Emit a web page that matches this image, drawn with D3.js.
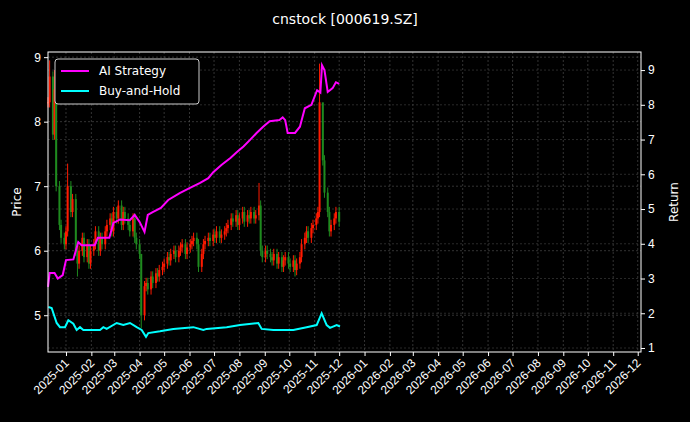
<!DOCTYPE html><html><head><meta charset="utf-8"><script src="https://cdn.jsdelivr.net/npm/d3@7"></script>
<style>body{margin:0;background:#000}svg{font-family:"DejaVu Sans",sans-serif}</style></head><body><svg id="c" width="690" height="422"></svg>
<script>
const closes=[8.3,8.7,7.8,8.5,7.0,6.4,6.2,6.1,6.3,7.0,6.6,6.8,6.0,5.8,6.0,6.2,5.9,6.1,5.8,6.0,
6.1,6.3,6.0,6.2,6.1,6.3,6.4,6.5,6.3,6.6,6.5,6.7,6.4,6.6,6.5,6.4,6.3,6.5,6.2,6.1,5.95,5.0,
5.45,5.5,5.4,5.6,5.5,5.65,5.6,5.7,5.75,5.8,5.9,5.85,5.95,6.0,5.9,6.0,6.05,6.1,5.95,6.05,6.1,
6.15,6.2,6.1,5.75,5.95,6.1,6.15,6.2,6.15,6.25,6.2,6.3,6.2,6.25,6.3,6.35,
6.4,6.5,6.45,6.55,6.4,6.5,6.6,6.45,6.55,6.5,6.6,6.5,6.55,6.7,6.0,5.9,6.0,5.95,5.9,
5.85,5.95,5.8,5.9,5.75,5.85,5.9,5.8,5.75,5.85,5.7,5.8,5.9,6.1,6.2,6.3,6.2,6.35,6.4,6.5,6.6,
8.3,7.4,6.9,6.6,6.3,6.4,6.5,6.6,6.45];
const spikeHigh={1:8.95,3:8.8,9:7.35,41:5.95,92:7.05,119:8.9,120:8.0};
const spikeLow={41:4.8,108:5.6,13:5.6};
const aiDates=["2024-12-10","2024-12-12","2024-12-18","2024-12-22","2024-12-28","2025-01-01","2025-01-10","2025-01-16","2025-01-20","2025-02-05","2025-02-09","2025-02-23","2025-02-28","2025-03-08","2025-03-20","2025-03-26","2025-04-01","2025-04-07","2025-04-11","2025-04-17","2025-04-27","2025-05-06","2025-05-20","2025-06-01","2025-06-14","2025-06-24","2025-06-30","2025-07-10","2025-07-21","2025-07-29","2025-08-06","2025-08-14","2025-08-22","2025-08-30","2025-09-07","2025-09-19","2025-09-23","2025-09-26","2025-09-29","2025-10-08","2025-10-14","2025-10-20","2025-10-28","2025-11-04","2025-11-08","2025-11-10","2025-11-13","2025-11-17","2025-11-23","2025-11-27","2025-12-01"];
const aiValues=[2.76,3.16,3.16,3.0,3.1,3.53,3.55,4.05,3.96,3.96,4.17,4.17,4.6,4.7,4.68,4.83,4.63,4.34,4.83,4.91,5.03,5.26,5.46,5.6,5.75,5.89,6.06,6.27,6.47,6.64,6.8,6.99,7.19,7.37,7.53,7.56,7.64,7.56,7.19,7.19,7.37,7.9,8.0,8.42,8.35,9.14,9.0,8.37,8.48,8.65,8.6];
const bhX=[25,35,50,60,75,85,100,110,120,130,180,190,200,230,250,270,290,305,318,325,360,400,460,490,500,560,600,655,665,700,740,760,800,830,845,860,870,890,900];
const bhValues=[2.18,2.15,1.72,1.6,1.6,1.8,1.7,1.52,1.6,1.52,1.52,1.6,1.55,1.72,1.66,1.72,1.6,1.52,1.32,1.43,1.48,1.55,1.6,1.52,1.55,1.6,1.66,1.72,1.55,1.52,1.52,1.52,1.6,1.66,2.0,1.66,1.58,1.66,1.62];
const priceTicks=[5,6,7,8,9], retTicks=[1,2,3,4,5,6,7,8,9];

const svg=d3.select("#c");
const L=48,R=641,T=52,B=352;
const x=d3.scaleTime().domain([new Date(2024,11,10),new Date(2026,11,5)]).range([L,R]);
const y=d3.scaleLinear().domain([4.43,9.08]).range([B,T]);
const y2=d3.scaleLinear().domain([0.885,9.52]).range([B,T]);
const days=[];let d=new Date(2024,11,10);
while(days.length<closes.length*2){if(d.getDay()%6!==0)days.push(new Date(d));d=d3.timeDay.offset(d,1);}
const cd=closes.map((c,i)=>days[i*2]);
const months=d3.timeMonth.range(new Date(2025,0,1),new Date(2026,11,2));
const g=svg.append("g");
g.selectAll(".vg").data(months).join("line").attr("x1",d=>x(d)).attr("x2",d=>x(d)).attr("y1",T).attr("y2",B).attr("stroke","#555").attr("stroke-dasharray","2,2").attr("stroke-width",0.6);
g.selectAll(".hg").data(priceTicks).join("line").attr("x1",L).attr("x2",R).attr("y1",d=>y(d)).attr("y2",d=>y(d)).attr("stroke","#555").attr("stroke-dasharray","2,2").attr("stroke-width",0.6);
g.selectAll(".hg2").data(retTicks).join("line").attr("x1",L).attr("x2",R).attr("y1",d=>y2(d)).attr("y2",d=>y2(d)).attr("stroke","#444").attr("stroke-dasharray","2,2").attr("stroke-width",0.6);
closes.forEach((c,i)=>{const o=i?closes[i-1]:c;const up=c>=o;
 const hi=spikeHigh[i]??Math.max(o,c)+0.08, lo=spikeLow[i]??Math.min(o,c)-0.08;
 const col=up?"#ff1a00":"#1f8a1f";const xc=x(cd[i]);
 g.append("line").attr("x1",xc).attr("x2",xc).attr("y1",y(hi)).attr("y2",y(lo)).attr("stroke",col).attr("stroke-width",1);
 g.append("rect").attr("x",xc-1).attr("width",2).attr("y",y(Math.max(o,c))).attr("height",Math.max(1,y(Math.min(o,c))-y(Math.max(o,c)))).attr("fill",col);
});
const ai=aiDates.map((s,i)=>[new Date(s+"T00:00"),aiValues[i]]);
g.append("path").datum(ai).attr("d",d3.line().x(d=>x(d[0])).y(d=>y2(d[1]))).attr("fill","none").attr("stroke","#ff00ff").attr("stroke-width",2);
const px2date=zx=>x.invert(40+zx/3);
const bh=bhX.map((v,i)=>[px2date(v),bhValues[i]]);
g.append("path").datum(bh).attr("d",d3.line().x(d=>x(d[0])).y(d=>y2(d[1]))).attr("fill","none").attr("stroke","#00ffff").attr("stroke-width",2);
svg.append("rect").attr("x",L).attr("y",T).attr("width",R-L).attr("height",B-T).attr("fill","none").attr("stroke","#fff").attr("stroke-width",1);
const ax=svg.append("g").attr("transform",`translate(0,${B})`).call(d3.axisBottom(x).tickValues(months).tickFormat(d3.timeFormat("%Y-%m")).tickSize(4));
ax.selectAll("text").attr("transform","rotate(-45)").attr("text-anchor","end").attr("dx","-0.5em").attr("dy","0.3em");
svg.append("g").attr("transform",`translate(${L},0)`).call(d3.axisLeft(y).tickValues(priceTicks).tickFormat(d3.format("d")).tickSize(4));
svg.append("g").attr("transform",`translate(${R},0)`).call(d3.axisRight(y2).tickValues(retTicks).tickFormat(d3.format("d")).tickSize(4));
svg.selectAll(".domain").remove();
svg.selectAll(".tick line").attr("stroke","#fff");
svg.selectAll(".tick text").attr("fill","#fff").style("font-size","12px");
svg.append("text").attr("x",345).attr("y",24).attr("text-anchor","middle").attr("fill","#fff").style("font-size","14px").text("cnstock [000619.SZ]");
svg.append("text").attr("transform","translate(21,202) rotate(-90)").attr("text-anchor","middle").attr("fill","#fff").style("font-size","12px").text("Price");
svg.append("text").attr("transform","translate(678,202) rotate(-90)").attr("text-anchor","middle").attr("fill","#fff").style("font-size","12px").text("Return");
const lg=svg.append("g");
lg.append("rect").attr("x",55).attr("y",59).attr("width",144).attr("height",45).attr("rx",3).attr("fill","#000").attr("stroke","#ccc");
[["AI Strategy","#ff00ff"],["Buy-and-Hold","#00ffff"]].forEach((e,i)=>{
 lg.append("line").attr("x1",61).attr("x2",89).attr("y1",71+i*20).attr("y2",71+i*20).attr("stroke",e[1]).attr("stroke-width",2);
 lg.append("text").attr("x",99).attr("y",75+i*20).attr("fill","#fff").style("font-size","12px").text(e[0]);
});
</script></body></html>
